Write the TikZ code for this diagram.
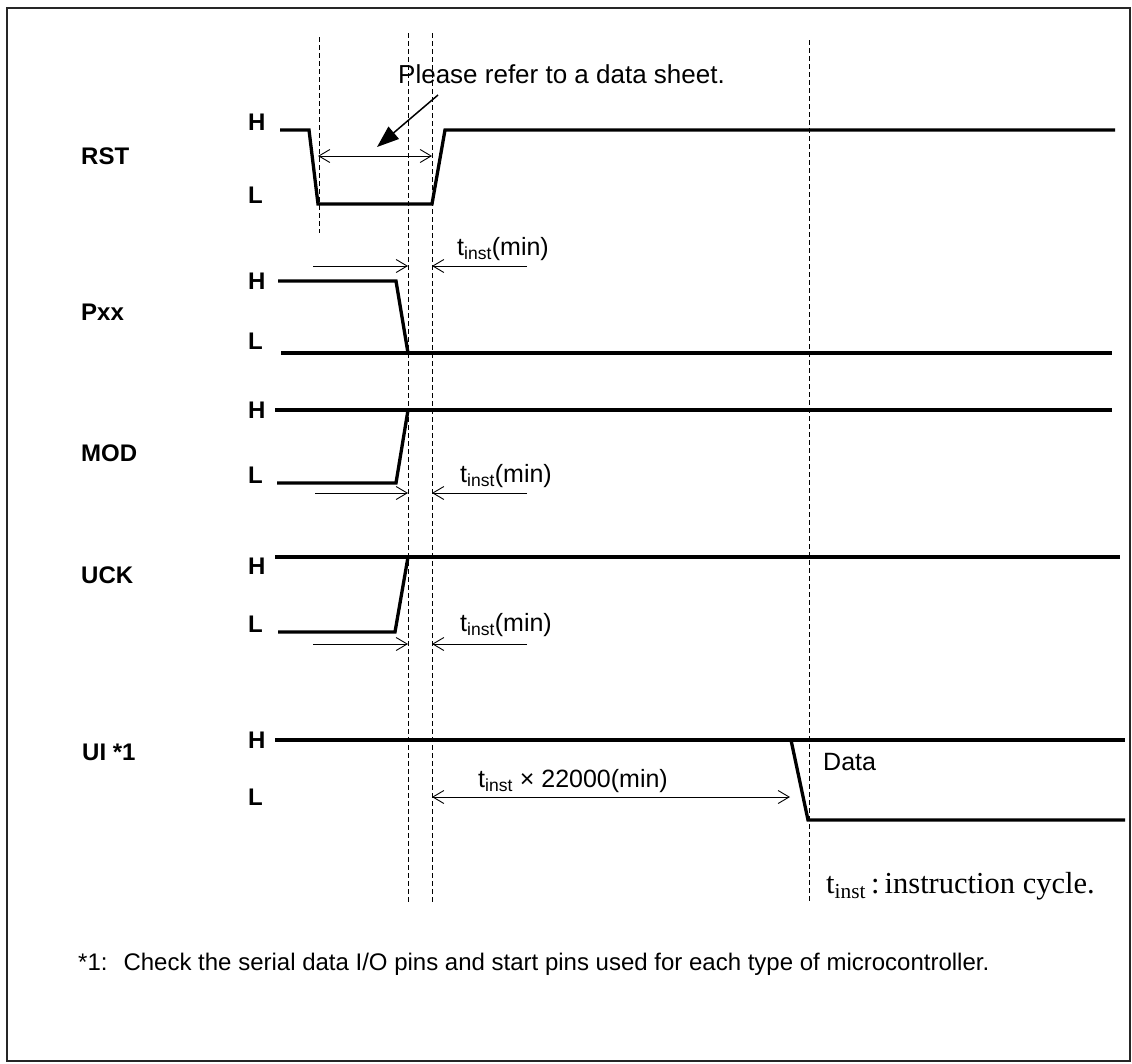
\documentclass[tikz,border=0pt]{standalone}
\usepackage{fontspec}
\setmainfont{Liberation Sans}
\newfontfamily\serifed{Liberation Serif}
\usetikzlibrary{arrows.meta}
\begin{document}
\begin{tikzpicture}[x=1pt,y=-1pt,
  sig/.style={line width=3.3pt},
  guide/.style={dash pattern=on 5pt off 3pt, line width=0.9pt},
  dimline/.style={line width=0.9pt},
  barb/.tip={Straight Barb[length=11pt,width=13pt,line width=0.9pt]},
  dimboth/.style={dimline,barb-barb},
  dimto/.style={dimline,-barb},
  callout/.style={line width=1.5pt,-{Triangle[length=22pt,width=16pt]}},
  siglbl/.style={font=\fontsize{24}{28}\selectfont\bfseries, anchor=west, inner sep=0pt},
  lvl/.style={font=\fontsize{24}{28}\selectfont\bfseries, anchor=west, inner sep=0pt},
  txt/.style={font=\fontsize{25}{30}\selectfont, anchor=base west, inner sep=0pt},
  serif/.style={font=\fontsize{30.5}{36}\selectfont\serifed, anchor=base west, inner sep=0pt}
]
\useasboundingbox (0,0) rectangle (1132,1063);
\draw[line width=1.6pt, black!85] (7,8) rectangle (1130,1061);

% guide lines
\coordinate (g1t) at (319,37);  \coordinate (g1b) at (319,233);
\coordinate (g2t) at (408,33);  \coordinate (g2b) at (408,903);
\coordinate (g3t) at (432,33);  \coordinate (g3b) at (432,903);
\coordinate (g4t) at (809,40);  \coordinate (g4b) at (809,903);
\draw[guide] (g1t) -- (g1b);
\draw[guide] (g2t) -- (g2b);
\draw[guide] (g3t) -- (g3b);
\draw[guide] (g4t) -- (g4b);

% signal labels
\node[siglbl] (rst) at (81,156) {RST};
\node[siglbl] (pxx) at (81,312) {Pxx};
\node[siglbl] (mod) at (81,453) {MOD};
\node[siglbl] (uck) at (81,575) {UCK};
\node[siglbl] (ui)  at (82,752) {UI *1};

\node[lvl] (rstH) at (248,122) {H};
\node[lvl] (rstL) at (248,195) {L};
\node[lvl] (pxxH) at (248,281) {H};
\node[lvl] (pxxL) at (248,341) {L};
\node[lvl] (modH) at (248,410) {H};
\node[lvl] (modL) at (248,475) {L};
\node[lvl] (uckH) at (248,566) {H};
\node[lvl] (uckL) at (248,624) {L};
\node[lvl] (uiH)  at (248,740) {H};
\node[lvl] (uiL)  at (248,797) {L};

% RST waveform
\coordinate (r0) at (280,130); \coordinate (r1) at (309,130);
\coordinate (r2) at (318,204); \coordinate (r3) at (432,204);
\coordinate (r4) at (445,130); \coordinate (r5) at (1115,130);
\draw[sig] (r0) -- (r1) -- (r2) -- (r3) -- (r4) -- (r5);

% Pxx waveform
\coordinate (p0) at (281,353); \coordinate (p1) at (1112,353);
\coordinate (p2) at (278,281); \coordinate (p3) at (396,281);
\coordinate (p4) at (408,353);
\draw[sig] (p0) -- (p1);
\draw[sig] (p2) -- (p3) -- (p4);

% MOD waveform
\coordinate (m0) at (275,410); \coordinate (m1) at (1112,410);
\coordinate (m2) at (277,483); \coordinate (m3) at (396,483);
\coordinate (m4) at (408,410);
\draw[sig] (m0) -- (m1);
\draw[sig] (m2) -- (m3) -- (m4);

% UCK waveform
\coordinate (u0) at (275,557); \coordinate (u1) at (1120,557);
\coordinate (u2) at (278,632); \coordinate (u3) at (395,632);
\coordinate (u4) at (408,557);
\draw[sig] (u0) -- (u1);
\draw[sig] (u2) -- (u3) -- (u4);

% UI waveform
\coordinate (i0) at (275,740); \coordinate (i1) at (1125,740);
\coordinate (i2) at (791,740); \coordinate (i3) at (808,820);
\coordinate (i4) at (1125,820);
\draw[sig] (i0) -- (i1);
\draw[sig] (i2) -- (i3) -- (i4);

% dimension arrows
\coordinate (da1) at (318,156); \coordinate (da2) at (432,156);
\draw[dimboth] (da1) -- (da2);

\coordinate (pa1) at (313,266); \coordinate (pa2) at (408,266);
\coordinate (pa3) at (527,266); \coordinate (pa4) at (432,266);
\draw[dimto] (pa1) -- (pa2);
\draw[dimto] (pa3) -- (pa4);

\coordinate (ma1) at (315,493); \coordinate (ma2) at (408,493);
\coordinate (ma3) at (527,493); \coordinate (ma4) at (432,493);
\draw[dimto] (ma1) -- (ma2);
\draw[dimto] (ma3) -- (ma4);

\coordinate (ua1) at (313,644); \coordinate (ua2) at (408,644);
\coordinate (ua3) at (527,644); \coordinate (ua4) at (432,644);
\draw[dimto] (ua1) -- (ua2);
\draw[dimto] (ua3) -- (ua4);

\coordinate (ia1) at (432,797); \coordinate (ia2) at (790,797);
\draw[dimboth] (ia1) -- (ia2);

% callout
\node[txt, font=\fontsize{26}{31}\selectfont] (note) at (398,83) {Please refer to a data sheet.};
\coordinate (c0) at (438,95); \coordinate (c1) at (377,147);
\draw[callout] (c0) -- (c1);

% timing labels
\node[txt] (t1) at (457,255) {t\textsubscript{inst}(min)};
\node[txt] (t2) at (460,482) {t\textsubscript{inst}(min)};
\node[txt] (t3) at (460,631) {t\textsubscript{inst}(min)};
\node[txt] (t4) at (478,787) {t\textsubscript{inst} × 22000(min)};
\node[txt] (data) at (823,770) {Data};

\node[serif] (legend) at (826,893) {t\textsubscript{inst}\,:\,instruction cycle.};

\node[txt, font=\fontsize{24}{29}\selectfont] (foot) at (78,970) {*1:\hspace{16pt}Check the serial data I/O pins and start pins used for each type of microcontroller.};
\end{tikzpicture}
\end{document}
